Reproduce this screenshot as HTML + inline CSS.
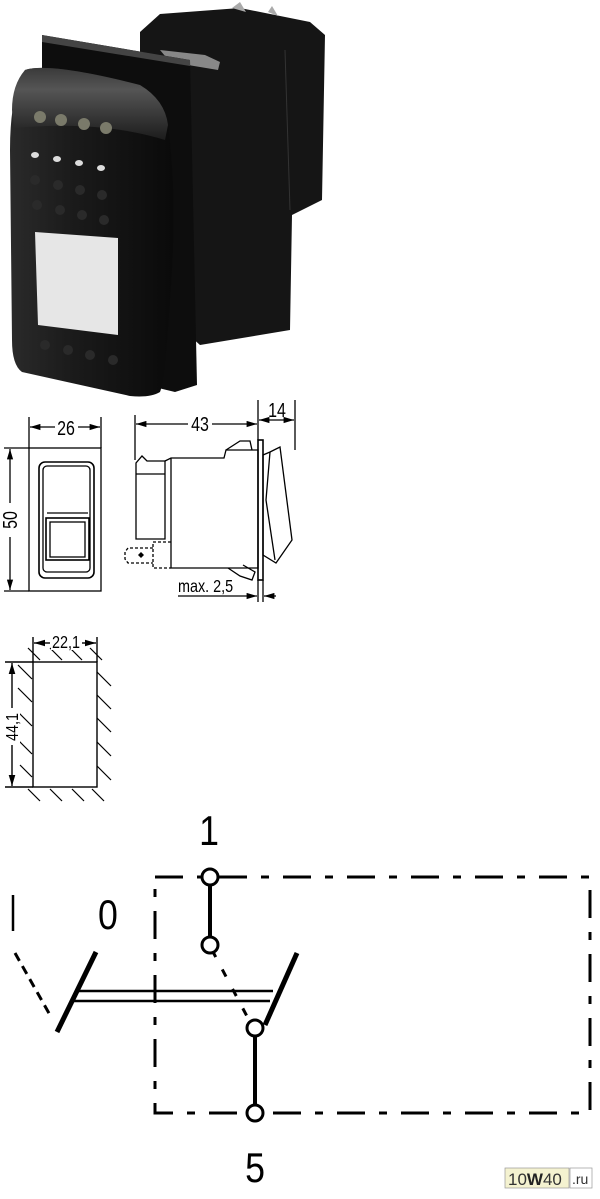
<!DOCTYPE html>
<html><head><meta charset="utf-8"><style>
html,body{margin:0;padding:0;background:#fff;}
svg{display:block;}
text{font-family:"Liberation Sans",sans-serif;}
</style></head><body>
<svg width="600" height="1199" viewBox="0 0 600 1199" xmlns="http://www.w3.org/2000/svg">
<defs>
<marker id="ar" viewBox="0 0 10 6" refX="10" refY="3" markerWidth="8" markerHeight="5" orient="auto-start-reverse"><path d="M0,0L10,3L0,6z" fill="#000"/></marker>
<linearGradient id="rk" x1="0" y1="0" x2="1" y2="0"><stop offset="0" stop-color="#2a2a2a"/><stop offset="0.4" stop-color="#1a1a1a"/><stop offset="1" stop-color="#0a0a0a"/></linearGradient>
<linearGradient id="rt" x1="0" y1="0" x2="0" y2="1"><stop offset="0" stop-color="#3a3a3a"/><stop offset="0.3" stop-color="#555"/><stop offset="1" stop-color="#1c1c1c"/></linearGradient>
</defs>
<!-- Photo -->
<polygon points="140,32 160,14 240,8 310,22 325,35 322,200 292,215 290,330 200,345 150,300 140,60" fill="#151515"/>
<line x1="285" y1="50" x2="290" y2="210" stroke="#333" stroke-width="1"/>
<polygon points="232,8 240,2 246,12" fill="#aaa"/>
<polygon points="268,12 272,6 278,16" fill="#aaa"/>
<polygon points="160,50 205,55 220,62 218,70 170,62" fill="#888"/>
<polygon points="42,35 190,60 197,385 175,392 42,360" fill="#0d0d0d"/>
<polygon points="42,35 190,60 190,66 42,42" fill="#444"/>
<path d="M25,70 Q50,62 140,85 Q165,100 168,125 Q178,200 170,300 Q165,380 160,392 Q150,398 130,396 L22,372 Q12,365 12,340 L10,150 Q10,95 25,70 Z" fill="url(#rk)"/>
<path d="M25,70 Q50,62 140,85 Q165,100 168,125 L165,140 Q100,120 14,128 L12,110 Q12,85 25,70 Z" fill="url(#rt)"/>
<polygon points="35,232 118,238 118,335 38,325" fill="#e6e6e6"/>
<g fill="#7a7a6a"><circle cx="40" cy="117" r="6"/><circle cx="61" cy="120" r="6"/><circle cx="84" cy="124" r="6"/><circle cx="106" cy="128" r="6"/></g>
<g fill="#ddd"><ellipse cx="35" cy="155" rx="4" ry="3"/><ellipse cx="57" cy="159" rx="4" ry="3"/><ellipse cx="79" cy="163" rx="4" ry="3"/><ellipse cx="101" cy="168" rx="4" ry="3"/></g>
<g fill="#2a2a2a"><circle cx="35" cy="180" r="5"/><circle cx="58" cy="185" r="5"/><circle cx="80" cy="190" r="5"/><circle cx="102" cy="195" r="5"/><circle cx="37" cy="205" r="5"/><circle cx="60" cy="210" r="5"/><circle cx="82" cy="215" r="5"/><circle cx="104" cy="220" r="5"/><circle cx="45" cy="345" r="5"/><circle cx="68" cy="350" r="5"/><circle cx="90" cy="355" r="5"/><circle cx="113" cy="360" r="5"/></g>

<!-- Front view -->
<g fill="none" stroke="#000" stroke-width="1.3">
<line x1="29" y1="417" x2="29" y2="448"/><line x1="101" y1="417" x2="101" y2="448"/>
<line x1="30" y1="427" x2="55" y2="427" marker-start="url(#ar)"/><line x1="78" y1="427" x2="100" y2="427" marker-end="url(#ar)"/>
<line x1="4" y1="448" x2="29" y2="448"/><line x1="4" y1="591" x2="29" y2="591"/>
<line x1="10" y1="449" x2="10" y2="503" marker-start="url(#ar)"/><line x1="10" y1="537" x2="10" y2="590" marker-end="url(#ar)"/>
<rect x="29" y="448" width="72" height="143"/>
<rect x="39" y="462" width="55" height="116" rx="6" stroke-width="1.6"/>
<rect x="43" y="466" width="47" height="106" rx="4"/>
<line x1="47" y1="513" x2="88" y2="513"/>
<rect x="46" y="518" width="43" height="42" stroke-width="1.6"/>
<rect x="50" y="522" width="35" height="35"/>
</g>
<text font-size="20" text-anchor="middle" transform="translate(66,435) scale(0.8,1)">26</text>
<text font-size="20" text-anchor="middle" transform="translate(17,520) rotate(-90) scale(0.8,1)">50</text>

<!-- Side view -->
<g fill="none" stroke="#000" stroke-width="1.3">
<line x1="135" y1="415" x2="135" y2="460"/><line x1="258" y1="400" x2="258" y2="440"/><line x1="295" y1="400" x2="295" y2="450"/>
<line x1="136" y1="424" x2="188" y2="424" marker-start="url(#ar)"/><line x1="212" y1="424" x2="257" y2="424" marker-end="url(#ar)"/>
<line x1="259" y1="420" x2="294" y2="420" marker-start="url(#ar)" marker-end="url(#ar)"/>
<path d="M136,539 L136,463 L142,456 L147,461 L165,461 L165,539 Z"/>
<line x1="136" y1="474" x2="165" y2="474"/>
<path d="M165,461 L171,458 L224,458 L226,450 L258,450 L258,568 L171,568 L171,539"/>
<line x1="171" y1="458" x2="171" y2="539"/>
<path d="M226,450 L240,441 L250,441 L252,450"/>
<rect x="258" y="440" width="5" height="140" stroke-width="1.6"/>
<path d="M263,455 L270,452 L280,447 L292,540 L276,563 L263,555 Z"/>
<path d="M270,452 L266,500 L275,560"/>
<path d="M228,568 L240,576 L252,580 L255,572 L243,565"/>
<g stroke-dasharray="3,2"><path d="M171,542 L153,542 L153,568 L171,568"/><path d="M153,548 L128,548 L125,552 L125,559 L128,563 L153,563"/></g>
<line x1="258" y1="580" x2="258" y2="602"/><line x1="263" y1="580" x2="263" y2="602"/>
<line x1="178" y1="596" x2="257" y2="596" marker-end="url(#ar)"/><line x1="276" y1="596" x2="264" y2="596" marker-end="url(#ar)"/>
</g>
<path d="M138,555 l3,-3 l3,3 l-3,3z" fill="#000"/>
<text font-size="20" text-anchor="middle" transform="translate(200,431) scale(0.8,1)">43</text>
<text font-size="20" text-anchor="middle" transform="translate(277,417) scale(0.8,1)">14</text>
<text font-size="18" transform="translate(178,592) scale(0.8,1)">max. 2,5</text>

<!-- Cutout -->
<g fill="none" stroke="#000" stroke-width="1.4">
<rect x="33" y="662" width="64" height="125"/>
<line x1="33" y1="637" x2="33" y2="662"/><line x1="97" y1="637" x2="97" y2="662"/>
<line x1="34" y1="643" x2="50" y2="643" marker-start="url(#ar)"/><line x1="82" y1="643" x2="96" y2="643" marker-end="url(#ar)"/>
<line x1="5" y1="662" x2="33" y2="662"/><line x1="5" y1="787" x2="33" y2="787"/>
<line x1="12" y1="663" x2="12" y2="708" marker-start="url(#ar)"/><line x1="12" y1="745" x2="12" y2="786" marker-end="url(#ar)"/>
<g stroke-width="1.2">
<line x1="28" y1="648" x2="40" y2="660"/><line x1="50" y1="648" x2="62" y2="660"/><line x1="70" y1="648" x2="82" y2="660"/><line x1="90" y1="648" x2="102" y2="660"/>
<line x1="18" y1="665" x2="32" y2="679"/><line x1="18" y1="688" x2="32" y2="702"/><line x1="18" y1="712" x2="32" y2="726"/><line x1="18" y1="740" x2="32" y2="754"/><line x1="20" y1="765" x2="32" y2="777"/>
<line x1="97" y1="672" x2="111" y2="686"/><line x1="97" y1="695" x2="111" y2="709"/><line x1="97" y1="718" x2="111" y2="732"/><line x1="97" y1="742" x2="111" y2="756"/><line x1="97" y1="766" x2="111" y2="780"/>
<line x1="28" y1="789" x2="40" y2="801"/><line x1="50" y1="789" x2="62" y2="801"/><line x1="72" y1="789" x2="84" y2="801"/><line x1="92" y1="789" x2="104" y2="801"/>
</g>
</g>
<rect x="51" y="634" width="30" height="16" fill="#fff"/>
<text font-size="18" text-anchor="middle" transform="translate(66,648) scale(0.8,1)">22,1</text>
<rect x="4" y="708" width="16" height="37" fill="#fff"/>
<text font-size="18" text-anchor="middle" transform="translate(18,727) rotate(-90) scale(0.8,1)">44,1</text>

<!-- Schematic -->
<g fill="none" stroke="#000">
<path d="M155,877 L590,877 L590,1113 L155,1113 Z" stroke-width="3" stroke-dasharray="28,14,8,14"/>
<line x1="210" y1="877" x2="210" y2="945" stroke-width="4"/>
<line x1="255" y1="1028" x2="255" y2="1113" stroke-width="4"/>
<line x1="212" y1="950" x2="250" y2="1022" stroke-width="3" stroke-dasharray="8,14"/>
<line x1="15" y1="953" x2="50" y2="1015" stroke-width="3" stroke-dasharray="9,6"/>
<line x1="57" y1="1032" x2="96" y2="952" stroke-width="5"/>
<line x1="297" y1="953" x2="265" y2="1025" stroke-width="5"/>
<line x1="77" y1="991" x2="273" y2="991" stroke-width="2.5"/>
<line x1="72" y1="1001" x2="270" y2="1001" stroke-width="2.5"/>
<line x1="13" y1="895" x2="13" y2="931" stroke-width="2.5"/>
<g fill="#fff" stroke-width="3"><circle cx="210" cy="877" r="8"/><circle cx="210" cy="945" r="8"/><circle cx="255" cy="1028" r="8"/><circle cx="255" cy="1113" r="8"/></g>
</g>
<text x="246" y="845" font-size="42" text-anchor="middle" transform="scale(0.85,1)">1</text>
<text x="127" y="929" font-size="42" text-anchor="middle" transform="scale(0.85,1)">0</text>
<text x="300" y="1182" font-size="42" text-anchor="middle" transform="scale(0.85,1)">5</text>

<!-- watermark -->
<rect x="505" y="1168" width="64" height="20" fill="#f4f2d0" stroke="#999" stroke-width="0.7"/>
<rect x="570" y="1168" width="22" height="20" fill="#fff" stroke="#999" stroke-width="0.7"/>
<text x="508" y="1185" font-size="17" fill="#333">10<tspan font-weight="bold" fill="#222">W</tspan>40</text>
<text x="572" y="1184" font-size="14" fill="#333">.ru</text>
</svg>
</body></html>
